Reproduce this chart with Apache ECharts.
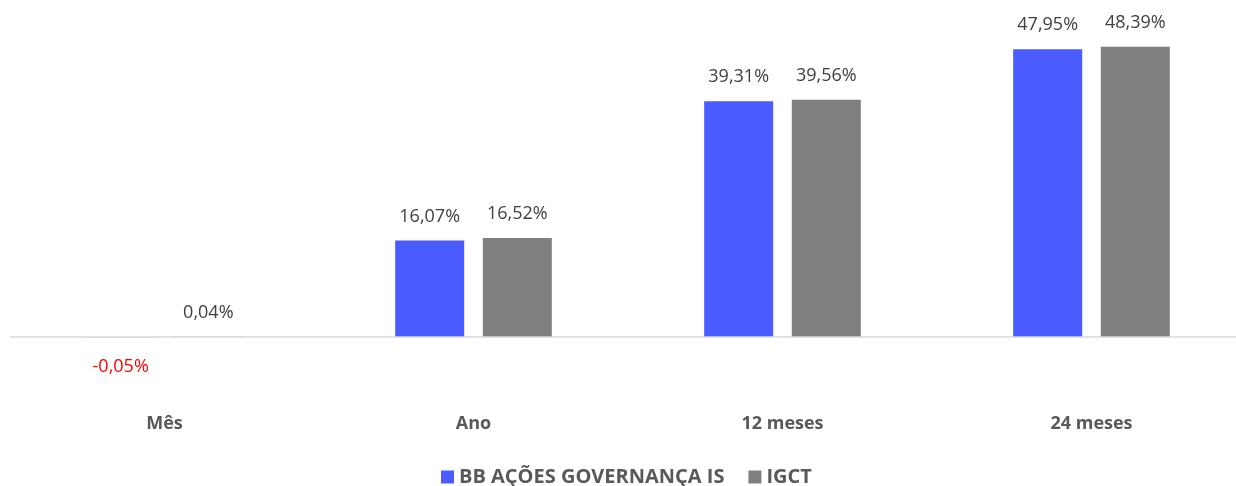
<!DOCTYPE html>
<html>
<head>
<meta charset="utf-8">
<script src="https://cdn.jsdelivr.net/npm/echarts@6/dist/echarts.min.js"></script>
<style>
  html, body { margin: 0; padding: 0; background: #fff; overflow: hidden; }
  #chart { width: 1246px; height: 486px; }
</style>
</head>
<body>
<div id="chart"></div>
<script>
  // categorias e valores (%)
  var categorias = ['Mês', 'Ano', '12 meses', '24 meses'];
  var fundo = [-0.05, 16.07, 39.31, 47.95];
  var indice = [0.04, 16.52, 39.56, 48.39];
  var nomes = ['BB AÇÕES GOVERNANÇA IS', 'IGCT'];

  var fonte = '"Open Sans", "Noto Sans", sans-serif';

  function fmt(v) {
    return v.toFixed(2).replace('.', ',') + '%';
  }

  var myChart = echarts.init(document.getElementById('chart'));
  myChart.setOption({
    animation: false,
    textStyle: { fontFamily: fonte },
    legend: {
      top: 462,
      left: 436,
      itemWidth: 13,
      itemHeight: 13,
      itemGap: 24,
      icon: 'rect',
      textStyle: { color: '#595959', fontSize: 20, fontWeight: 'bold', fontFamily: fonte },
      data: nomes
    },
    grid: { left: 10, right: 0, top: 37, height: 372 },
    xAxis: {
      type: 'category',
      data: categorias,
      axisLine: { show: false, onZero: false },
      axisTick: { show: false },
      axisLabel: { color: '#595959', fontSize: 18, fontWeight: 'bold', margin: 6, fontFamily: fonte }
    },
    yAxis: {
      type: 'value',
      min: -12,
      max: 50,
      show: false,
      splitLine: { show: false }
    },
    series: [
      {
        name: nomes[0],
        type: 'bar',
        barWidth: 69,
        barGap: '27%',
        itemStyle: { color: '#4a5bff' },
        data: fundo.map(function (v) {
          return v < 0
            ? { value: v, label: { position: 'bottom', color: '#ff0000', distance: 21 } }
            : v;
        }),
        label: {
          show: true,
          position: 'top',
          distance: 15,
          color: '#404040',
          fontSize: 18,
          fontFamily: fonte,
          formatter: function (p) { return fmt(p.value); }
        },
        markLine: {
          silent: true,
          symbol: 'none',
          label: { show: false },
          lineStyle: { color: '#d9d9d9', type: 'solid', width: 1.5 },
          data: [{ yAxis: 0 }]
        }
      },
      {
        name: nomes[1],
        type: 'bar',
        barWidth: 69,
        itemStyle: { color: '#7f7f7f' },
        data: indice,
        label: {
          show: true,
          position: 'top',
          distance: 15,
          color: '#404040',
          fontSize: 18,
          fontFamily: fonte,
          formatter: function (p) { return fmt(p.value); }
        }
      }
    ]
  });
</script>
</body>
</html>
